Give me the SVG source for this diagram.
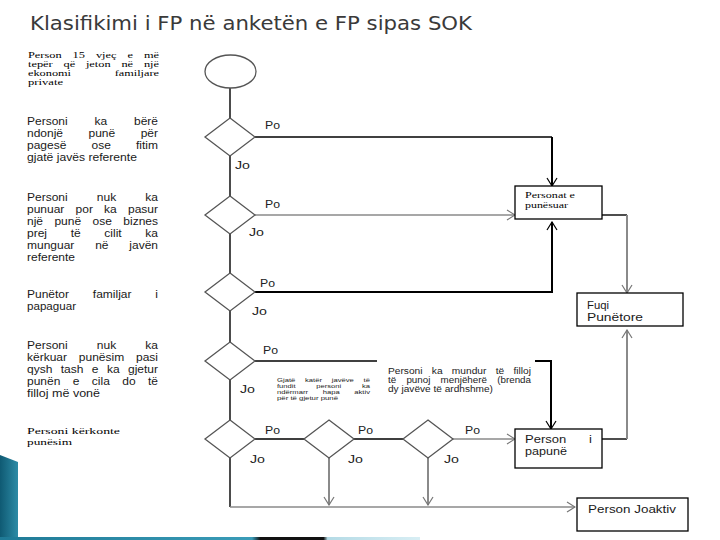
<svg xmlns="http://www.w3.org/2000/svg" width="720" height="540" viewBox="0 0 720 540">
<defs>
<style>
.title{font-family:"DejaVu Sans",Verdana,sans-serif;font-size:19.5px;fill:#3a3a3a}
.sans{font-family:"Liberation Sans",Arial,sans-serif;font-size:10px;fill:#1a1a1a}
.ser{font-family:"Liberation Serif","Times New Roman",serif;font-size:9px;fill:#000}
.ser2{font-family:"Liberation Serif","Times New Roman",serif;font-size:8.3px;fill:#000}
.lbl{font-family:"Liberation Sans",Arial,sans-serif;font-size:11px;fill:#222}
.note{font-family:"Liberation Sans",Arial,sans-serif;font-size:8.5px;fill:#222}
.tiny{font-family:"Liberation Sans",Arial,sans-serif;font-size:6px;fill:#222}
.dia{fill:#fff;stroke:#555;stroke-width:1.3}
.box{fill:#fff;stroke:#000;stroke-width:1.3}
.cb{fill:none;stroke:#000;stroke-width:1.4}
.cbt{fill:none;stroke:#000;stroke-width:2}
.cg{fill:none;stroke:#8a8a8a;stroke-width:1.4}
.cgt{fill:none;stroke:#8a8a8a;stroke-width:2}
</style>
<marker id="ab" viewBox="0 0 10 12" markerWidth="10" markerHeight="12" refX="9" refY="6" orient="auto" markerUnits="userSpaceOnUse"><path d="M1,1 L9,6 L1,11" fill="none" stroke="#000" stroke-width="1.2"/></marker>
<marker id="ag" viewBox="0 0 10 12" markerWidth="10" markerHeight="12" refX="9" refY="6" orient="auto" markerUnits="userSpaceOnUse"><path d="M1,1 L9,6 L1,11" fill="none" stroke="#777" stroke-width="1.2"/></marker>
<linearGradient id="side" x1="0" y1="0" x2="1" y2="0"><stop offset="0" stop-color="#0f5a73"/><stop offset="1" stop-color="#2d8ba6"/></linearGradient>
<linearGradient id="bot" x1="0" y1="0" x2="1" y2="0"><stop offset="0" stop-color="#1f7a96"/><stop offset="0.6" stop-color="#3a9cb8"/><stop offset="0.62" stop-color="#111"/><stop offset="0.77" stop-color="#111"/><stop offset="0.78" stop-color="#b5dbe6"/><stop offset="1" stop-color="#d8eef4"/></linearGradient>
</defs>
<rect width="720" height="540" fill="#fff"/>
<polygon points="0,455 18,462 18,540 0,540" fill="url(#side)"/>
<rect x="0" y="537" width="420" height="3" fill="url(#bot)"/>
<text class="title" x="30" y="29.5" textLength="442" lengthAdjust="spacingAndGlyphs">Klasifikimi i FP në anketën e FP sipas SOK</text>

<g id="criteria">
<text class="ser2" x="28" y="57.5" word-spacing="5.3" textLength="131" lengthAdjust="spacingAndGlyphs">Person 15 vjeç e më</text>
<text class="ser2" x="28" y="66.5" word-spacing="5.15" textLength="131" lengthAdjust="spacingAndGlyphs">tepër që jeton në një</text>
<text class="ser2" x="28" y="75.5" word-spacing="27.4" textLength="131" lengthAdjust="spacingAndGlyphs">ekonomi familjare</text>
<text class="ser2" x="28" y="84.5" textLength="35" lengthAdjust="spacingAndGlyphs">private</text>

<text class="sans" x="27" y="125" word-spacing="19.6" textLength="131" lengthAdjust="spacingAndGlyphs">Personi ka bërë</text>
<text class="sans" x="27" y="137" word-spacing="18.45" textLength="131" lengthAdjust="spacingAndGlyphs">ndonjë punë për</text>
<text class="sans" x="27" y="149" word-spacing="18.2" textLength="131" lengthAdjust="spacingAndGlyphs">pagesë ose fitim</text>
<text class="sans" x="27" y="161" textLength="110" lengthAdjust="spacingAndGlyphs">gjatë javës referente</text>

<text class="sans" x="27" y="201" word-spacing="21.5" textLength="131" lengthAdjust="spacingAndGlyphs">Personi nuk ka</text>
<text class="sans" x="27" y="213" word-spacing="6.56" textLength="131" lengthAdjust="spacingAndGlyphs">punuar por ka pasur</text>
<text class="sans" x="27" y="225" word-spacing="6.74" textLength="131" lengthAdjust="spacingAndGlyphs">një punë ose biznes</text>
<text class="sans" x="27" y="237" word-spacing="16.9" textLength="131" lengthAdjust="spacingAndGlyphs">prej të cilit ka</text>
<text class="sans" x="27" y="249" word-spacing="14.6" textLength="131" lengthAdjust="spacingAndGlyphs">munguar në javën</text>
<text class="sans" x="27" y="261" textLength="48" lengthAdjust="spacingAndGlyphs">referente</text>

<text class="sans" x="27" y="298" word-spacing="17.1" textLength="131" lengthAdjust="spacingAndGlyphs">Punëtor familjar i</text>
<text class="sans" x="27" y="310" textLength="49" lengthAdjust="spacingAndGlyphs">papaguar</text>

<text class="sans" x="27" y="349" word-spacing="21.5" textLength="131" lengthAdjust="spacingAndGlyphs">Personi nuk ka</text>
<text class="sans" x="27" y="361" word-spacing="7.07" textLength="131" lengthAdjust="spacingAndGlyphs">kërkuar punësim pasi</text>
<text class="sans" x="27" y="373" word-spacing="4.2" textLength="131" lengthAdjust="spacingAndGlyphs">qysh tash e ka gjetur</text>
<text class="sans" x="27" y="385" word-spacing="7.56" textLength="131" lengthAdjust="spacingAndGlyphs">punën e cila do të</text>
<text class="sans" x="27" y="397" textLength="73" lengthAdjust="spacingAndGlyphs">filloj më vonë</text>

<text class="ser" x="27" y="434" textLength="93" lengthAdjust="spacingAndGlyphs">Personi kërkonte</text>
<text class="ser" x="27" y="445" textLength="45" lengthAdjust="spacingAndGlyphs">punësim</text>
</g>

<g id="connectors">
<path class="cb" d="M230,88 V118 M230,156 V196 M230,234 V273 M230,311 V342 M230,380 V420 M230,458 V507"/>
<path class="cg" d="M230,507 H575" marker-end="url(#ag)"/>
<path class="cb" d="M255,137 H552"/>
<path class="cbt" d="M552,137 V186" marker-end="url(#ab)"/>
<path class="cg" d="M255,215 H515" marker-end="url(#ag)"/>
<path class="cbt" d="M255,292 H552 V222" marker-end="url(#ab)"/>
<path class="cb" d="M602,215 H627"/>
<path class="cgt" d="M627,215 V293" marker-end="url(#ag)"/>
<path class="cb" d="M255,361 H377"/>
<path class="cbt" d="M535,361 H551 V429" marker-end="url(#ab)"/>
<path class="cb" d="M602,439 H627"/>
<path class="cgt" d="M627,439 V330" marker-end="url(#ag)"/>
<path class="cb" d="M255,439 H304 M354,439 H403"/>
<path class="cg" d="M453,439 H515" marker-end="url(#ag)"/>
<path class="cgt" d="M329,458 V505" marker-end="url(#ag)"/>
<path class="cgt" d="M428,458 V505" marker-end="url(#ag)"/>
<text class="lbl" x="265" y="129" textLength="15" lengthAdjust="spacingAndGlyphs">Po</text>
<text class="lbl" x="235" y="169" textLength="15" lengthAdjust="spacingAndGlyphs">Jo</text>
<text class="lbl" x="265" y="208" textLength="15" lengthAdjust="spacingAndGlyphs">Po</text>
<text class="lbl" x="249" y="236" textLength="15" lengthAdjust="spacingAndGlyphs">Jo</text>
<text class="lbl" x="260" y="287" textLength="15" lengthAdjust="spacingAndGlyphs">Po</text>
<text class="lbl" x="252" y="315" textLength="15" lengthAdjust="spacingAndGlyphs">Jo</text>
<text class="lbl" x="263" y="354" textLength="15" lengthAdjust="spacingAndGlyphs">Po</text>
<text class="lbl" x="240" y="393" textLength="15" lengthAdjust="spacingAndGlyphs">Jo</text>
<text class="lbl" x="265" y="434" textLength="15" lengthAdjust="spacingAndGlyphs">Po</text>
<text class="lbl" x="250" y="463" textLength="15" lengthAdjust="spacingAndGlyphs">Jo</text>
<text class="lbl" x="358" y="434" textLength="15" lengthAdjust="spacingAndGlyphs">Po</text>
<text class="lbl" x="348" y="463" textLength="15" lengthAdjust="spacingAndGlyphs">Jo</text>
<text class="lbl" x="465" y="434" textLength="15" lengthAdjust="spacingAndGlyphs">Po</text>
<text class="lbl" x="444" y="463" textLength="15" lengthAdjust="spacingAndGlyphs">Jo</text>
</g>

<g id="notes">
<text class="note" x="388" y="374" word-spacing="5.4" textLength="143" lengthAdjust="spacingAndGlyphs">Personi ka mundur të filloj</text>
<text class="note" x="388" y="383" word-spacing="6.5" textLength="143" lengthAdjust="spacingAndGlyphs">të punoj menjëherë (brenda</text>
<text class="note" x="388" y="392" textLength="105" lengthAdjust="spacingAndGlyphs">dy javëve të ardhshme)</text>
<text class="tiny" x="277" y="382" word-spacing="6" textLength="93" lengthAdjust="spacingAndGlyphs">Gjatë katër javëve të</text>
<text class="tiny" x="277" y="388" word-spacing="14.9" textLength="93" lengthAdjust="spacingAndGlyphs">fundit personi ka</text>
<text class="tiny" x="277" y="394" word-spacing="9.85" textLength="93" lengthAdjust="spacingAndGlyphs">ndërmarr hapa aktiv</text>
<text class="tiny" x="277" y="400" textLength="61" lengthAdjust="spacingAndGlyphs">për të gjetur punë</text>
</g>

<g id="start"><ellipse cx="230.5" cy="71.5" rx="25.5" ry="16.5" fill="#fff" stroke="#555" stroke-width="1.3"/></g>
<g id="d1"><polygon class="dia" points="230,118 255,137 230,156 205,137"/></g>
<g id="d2"><polygon class="dia" points="230,196 255,215 230,234 205,215"/></g>
<g id="d3"><polygon class="dia" points="230,273 255,292 230,311 205,292"/></g>
<g id="d4"><polygon class="dia" points="230,342 255,361 230,380 205,361"/></g>
<g id="d5"><polygon class="dia" points="230,420 255,439 230,458 205,439"/></g>
<g id="d6"><polygon class="dia" points="329,420 354,439 329,458 304,439"/></g>
<g id="d7"><polygon class="dia" points="428,420 453,439 428,458 403,439"/></g>

<g id="box-punesuar"><rect class="box" x="515" y="186" width="87" height="33"/>
<text class="ser" x="525" y="198" style="font-size:7.5px" textLength="50" lengthAdjust="spacingAndGlyphs">Personat e</text>
<text class="ser" x="525" y="208" style="font-size:7.5px" textLength="43" lengthAdjust="spacingAndGlyphs">punësuar</text></g>
<g id="box-fuqi"><rect class="box" x="577" y="293" width="106" height="33"/>
<text class="sans" x="587" y="309" textLength="22" lengthAdjust="spacingAndGlyphs">Fuqi</text>
<text class="sans" x="587" y="321" textLength="56" lengthAdjust="spacingAndGlyphs">Punëtore</text></g>
<g id="box-papune"><rect class="box" x="515" y="429" width="87" height="39"/>
<text class="sans" x="525" y="443" word-spacing="14.8" textLength="67" lengthAdjust="spacingAndGlyphs">Person i</text>
<text class="sans" x="525" y="455" textLength="42" lengthAdjust="spacingAndGlyphs">papunë</text></g>
<g id="box-joaktiv"><rect class="box" x="577" y="498" width="111" height="33"/>
<text class="sans" x="588" y="513" textLength="88" lengthAdjust="spacingAndGlyphs">Person Joaktiv</text></g>
</svg>
